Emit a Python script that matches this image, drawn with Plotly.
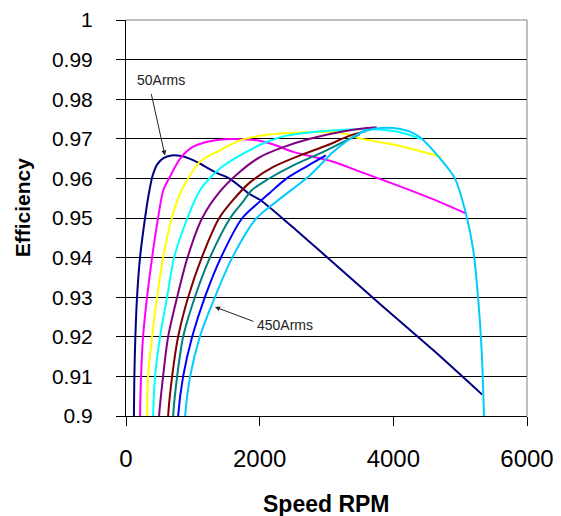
import plotly.graph_objects as go

# ---- data ----
rpm_50 = [115, 125, 140, 165, 210, 285, 340, 400, 470, 560, 680, 810, 950, 1110, 1355, 1555, 1855, 2005, 2453, 3000, 3800, 4600, 5330]
eff_50 = [0.895, 0.910, 0.920, 0.930, 0.940, 0.950, 0.9560, 0.9608, 0.9636, 0.9651, 0.9658, 0.9657, 0.9650, 0.9637, 0.9614, 0.9599, 0.9560, 0.9546, 0.9483, 0.9402, 0.9283, 0.9166, 0.9054]

rpm_100 = [205, 210, 225, 255, 315, 390, 480, 558, 660, 810, 1005, 1255, 1500, 1800, 2000, 2250, 2500, 3100, 3500, 4100, 4600, 5080]
eff_100 = [0.895, 0.900, 0.910, 0.920, 0.930, 0.940, 0.950, 0.9570, 0.9605, 0.9650, 0.9680, 0.9694, 0.9699, 0.9698, 0.9695, 0.9683, 0.9667, 0.9642, 0.9617, 0.9580, 0.9547, 0.9512]

rpm_150 = [305, 315, 330, 390, 465, 555, 685, 833, 1107, 1406, 1705, 2104, 2600, 3200, 3500, 4100, 4400, 4720]
eff_150 = [0.895, 0.900, 0.910, 0.920, 0.930, 0.940, 0.950, 0.9570, 0.9642, 0.9671, 0.9696, 0.9710, 0.9716, 0.9716, 0.9701, 0.9682, 0.9669, 0.9654]

rpm_200 = [395, 405, 435, 510, 615, 720, 920, 1107, 1406, 1705, 2104, 2404, 2852, 3500, 3950, 4200, 4400]
eff_200 = [0.895, 0.900, 0.910, 0.920, 0.930, 0.940, 0.950, 0.9570, 0.9625, 0.9658, 0.9692, 0.9708, 0.9718, 0.9724, 0.9721, 0.9712, 0.9700]

rpm_250 = [485, 495, 555, 630, 765, 920, 1140, 1395, 1705, 2005, 2354, 2753, 3201, 3601, 3750]
eff_250 = [0.895, 0.900, 0.910, 0.920, 0.930, 0.940, 0.950, 0.9565, 0.9617, 0.9654, 0.9679, 0.9700, 0.9717, 0.9727, 0.9729]

rpm_300 = [620, 630, 690, 780, 930, 1133, 1395, 1600, 1855, 2204, 2603, 3002, 3351, 3600]
eff_300 = [0.895, 0.900, 0.910, 0.920, 0.930, 0.940, 0.950, 0.9545, 0.9590, 0.9629, 0.9658, 0.9683, 0.9708, 0.9720]

rpm_350 = [695, 705, 765, 855, 1030, 1256, 1560, 1755, 1880, 2104, 2503, 2902, 3251, 3500]
eff_350 = [0.895, 0.900, 0.910, 0.920, 0.930, 0.940, 0.950, 0.9542, 0.9570, 0.9596, 0.9633, 0.9663, 0.9692, 0.9712]

rpm_400 = [770, 780, 855, 990, 1180, 1420, 1740, 2005, 2154, 2404, 2700, 2990]
eff_400 = [0.895, 0.900, 0.910, 0.920, 0.930, 0.940, 0.950, 0.9542, 0.9564, 0.9600, 0.9630, 0.9658]

rpm_450 = [875, 885, 960, 1105, 1330, 1590, 1955, 2254, 2753, 3102, 3351, 3601, 3900, 4100, 4250, 4400, 4700, 4920, 5080, 5196, 5271, 5321, 5356, 5362]
eff_450 = [0.895, 0.900, 0.910, 0.920, 0.930, 0.940, 0.950, 0.9542, 0.9608, 0.9667, 0.9700, 0.9721, 0.9728, 0.9725, 0.9718, 0.9704, 0.9650, 0.9600, 0.9515, 0.9419, 0.9293, 0.9167, 0.9000, 0.8950]

series_names = ["50Arms", "100Arms", "150Arms", "200Arms", "250Arms", "300Arms", "350Arms", "400Arms", "450Arms"]
series_x = [rpm_50, rpm_100, rpm_150, rpm_200, rpm_250, rpm_300, rpm_350, rpm_400, rpm_450]
series_y = [eff_50, eff_100, eff_150, eff_200, eff_250, eff_300, eff_350, eff_400, eff_450]
series_colors = ["#000080", "#FF00FF", "#FFFF00", "#00FFFF", "#800080", "#800000", "#008080", "#0000FF", "#00CCFF"]

y_tickvals = [0.90, 0.91, 0.92, 0.93, 0.94, 0.95, 0.96, 0.97, 0.98, 0.99, 1.00]
y_ticktext = ["0.9", "0.91", "0.92", "0.93", "0.94", "0.95", "0.96", "0.97", "0.98", "0.99", "1"]
x_tickvals = [0, 2000, 4000, 6000]

FONT = "Liberation Sans, Arial, sans-serif"

fig = go.Figure()
for name, xs, ys, col in zip(series_names, series_x, series_y, series_colors):
    fig.add_trace(go.Scatter(x=xs, y=ys, mode="lines", name=name,
                             line=dict(color=col, width=2, shape="spline", smoothing=0.8),
                             showlegend=False))

# the page body adds an 8px margin, so the figure is 8px smaller and margins shifted
fig.update_layout(
    width=553, height=508,
    margin=dict(l=118, r=34, t=12, b=100, autoexpand=False),
    paper_bgcolor="white", plot_bgcolor="white",
    font=dict(family=FONT, color="black"),
    xaxis=dict(range=[0, 6000], tickvals=x_tickvals, showgrid=False, zeroline=False,
               showline=True, linecolor="black", linewidth=1, automargin=False,
               ticks="outside", ticklen=9, tickcolor="black",
               tickfont=dict(size=24, family=FONT, color="black"), ticklabelstandoff=12),
    yaxis=dict(range=[0.9, 1.0], tickvals=y_tickvals, ticktext=y_ticktext,
               showgrid=True, gridcolor="black", gridwidth=1, zeroline=False,
               showline=True, linecolor="black", linewidth=1, automargin=False,
               ticks="outside", ticklen=9, tickcolor="black",
               tickfont=dict(size=21, family=FONT, color="black"), ticklabelstandoff=19),
)

# plot-area border (top & right) in grey
fig.add_shape(type="line", xref="paper", yref="paper", x0=0, x1=1, y0=1, y1=1,
              line=dict(color="#808080", width=1))
fig.add_shape(type="line", xref="paper", yref="paper", x0=1, x1=1, y0=0, y1=1,
              line=dict(color="#808080", width=1))

# axis titles
fig.add_annotation(text="<b>Efficiency</b>", xref="paper", yref="paper",
                   x=-0.256, y=0.528, textangle=-90, showarrow=False,
                   font=dict(size=21, family=FONT, color="black"),
                   xanchor="center", yanchor="middle")
fig.add_annotation(text="<b>Speed RPM</b>", xref="paper", yref="paper",
                   x=0.5, y=-0.222, showarrow=False,
                   font=dict(size=23, family=FONT, color="black"),
                   xanchor="center", yanchor="middle")

# callouts
fig.add_annotation(text="50Arms", x=524, y=0.9848, xref="x", yref="y", showarrow=False,
                   font=dict(size=14, family=FONT, color="#222222"))
fig.add_annotation(text="", x=583, y=0.9658, xref="x", yref="y", showarrow=True,
                   ax=-14, ay=-63, arrowhead=2, arrowsize=1, arrowwidth=1, arrowcolor="#222222")
fig.add_annotation(text="450Arms", x=2379, y=0.9229, xref="x", yref="y", showarrow=False,
                   font=dict(size=14, family=FONT, color="#222222"))
fig.add_annotation(text="", x=1331, y=0.92753, xref="x", yref="y", showarrow=True,
                   ax=40, ay=15, arrowhead=2, arrowsize=1, arrowwidth=1, arrowcolor="#222222")

fig.write_html("out.html")
